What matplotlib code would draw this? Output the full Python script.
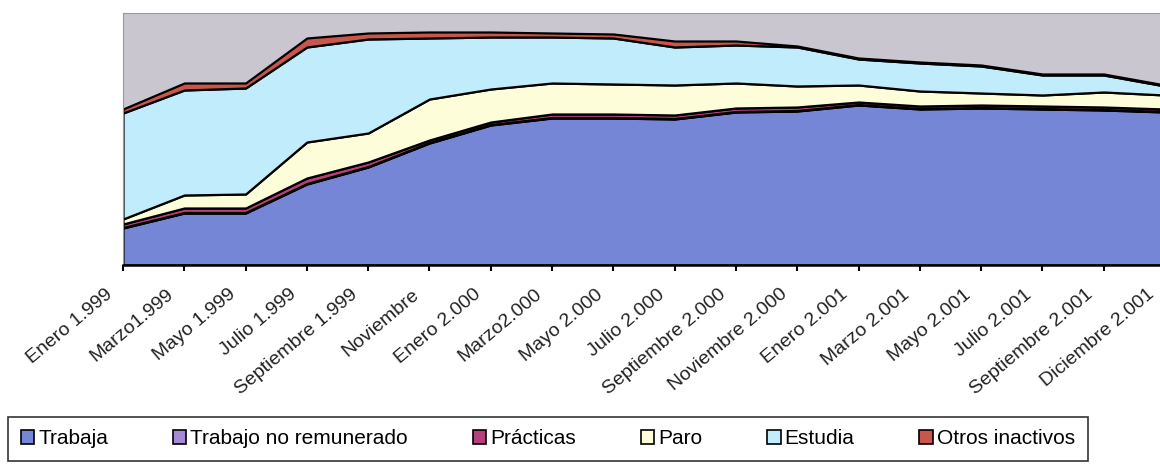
import numpy as np
import matplotlib.pyplot as plt
import matplotlib.transforms as mtransforms

plt.rcParams['font.family'] = ['Liberation Sans', 'DejaVu Sans']

# etiquetas del eje x (18 meses)
meses = ['Enero 1.999', 'Marzo1.999', 'Mayo 1.999', 'Julio 1.999',
         'Septiembre 1.999', 'Noviembre', 'Enero 2.000', 'Marzo2.000',
         'Mayo 2.000', 'Julio 2.000', 'Septiembre 2.000', 'Noviembre 2.000',
         'Enero 2.001', 'Marzo 2.001', 'Mayo 2.001', 'Julio 2.001',
         'Septiembre 2.001', 'Diciembre 2.001']

# valores (unidades aproximadas)
trabaja = [37, 52, 52, 81, 98, 122, 140, 147, 147, 146, 153, 154, 160, 156, 157, 156, 155, 153]
trabajo_no_rem = [0.5] * 18
practicas = [3.5, 4.5, 4.5, 5.5, 4.5, 2.5, 2.5, 3.5, 3.5, 3.5, 3.5, 3.5, 2.5, 2.5, 2.5, 2.5, 2.5, 2.5]
paro = [5, 13, 14, 36, 29, 41, 33, 31, 30, 30, 25, 21, 17, 15, 12, 11, 15, 14]
estudia = [106, 105, 106, 95, 94, 61, 52, 46, 46, 38, 38, 39, 26, 28, 27, 20, 17, 9]
otros = [4, 7, 5, 9, 6, 6, 5, 4, 4, 6, 4, 1, 1, 1, 1, 1, 1, 1]

series = ['Trabaja', 'Trabajo no remunerado', 'Prácticas', 'Paro', 'Estudia', 'Otros inactivos']
colores = ['#7686d6', '#a58ad6', '#b8407a', '#fdfdd9', '#c0ecfb', '#c8564a']

x = np.arange(len(meses))

fig = plt.figure(figsize=(11.6, 4.66), dpi=100)
ax = fig.add_axes([123/1160, 201/466, 1042/1160, 252/466])
ax.set_facecolor('#c9c6d0')

polys = ax.stackplot(x, trabaja, trabajo_no_rem, practicas, paro, estudia, otros,
                     colors=colores, labels=series, edgecolor='black', linewidth=1.6)

ax.set_xlim(0, len(meses) - 1)
ax.set_ylim(0, 252)
ax.set_yticks([])
ax.set_xticks(x)
ax.set_xticklabels(meses, rotation=40, ha='right', va='top',
                   rotation_mode='anchor', fontsize=14, color='#222222')
ax.tick_params(axis='x', direction='out', length=4, width=1.5, color='black', pad=11)

offset = mtransforms.ScaledTranslation(-18/100, 0, fig.dpi_scale_trans)
for lab in ax.get_xticklabels():
    lab.set_transform(lab.get_transform() + offset)

for s in ['top', 'left', 'right']:
    ax.spines[s].set_color('#999999')
    ax.spines[s].set_linewidth(0.8)
ax.spines['bottom'].set_color('black')
ax.spines['bottom'].set_linewidth(1.8)

leg = fig.legend(polys, series, loc='upper left', bbox_to_anchor=(8/1160, 1 - 417/466),
                 ncol=6, fontsize=15, frameon=True, fancybox=False,
                 handlelength=0.65, handleheight=0.65, handletextpad=0.2,
                 columnspacing=3.1, borderpad=0.6, borderaxespad=0)
leg.get_frame().set_edgecolor('black')
leg.get_frame().set_linewidth(1.2)
for h in leg.legend_handles:
    h.set_linewidth(1.2)

fig.savefig('out.png', dpi=100)
